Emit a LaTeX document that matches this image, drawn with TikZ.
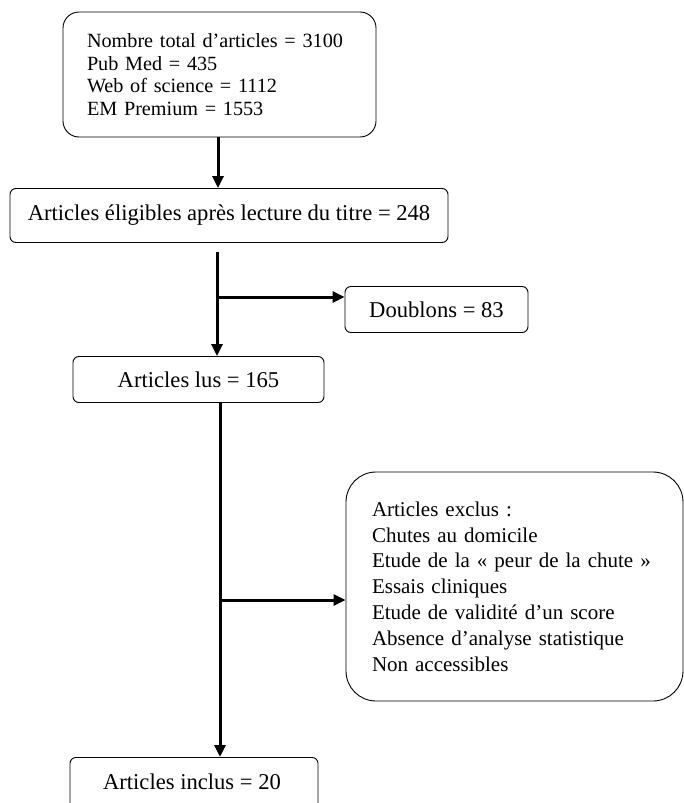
\documentclass[tikz,border=0pt]{standalone}
\usepackage{fontspec}
\setmainfont{Liberation Serif}
\usetikzlibrary{arrows.meta}
\begin{document}
\begin{tikzpicture}[x=1pt,y=-1pt,
  box/.style={draw, line width=0.9pt, rounded corners=6pt, inner sep=0pt, font=\fontsize{22.6}{26}\selectfont},
  flow/.style={line width=3pt, -{Triangle[length=12pt,width=11pt]}}]
\clip (0,0) rectangle (684,803);
% boxes
\node[box, rounded corners=16pt, minimum width=313pt, minimum height=125pt,
      text width=265pt, align=left, font=\fontsize{20.2}{22.7}\selectfont] (total) at (219.5,74.5)
  {Nombre total d’articles = 3100\\Pub Med = 435\\Web of science = 1112\\EM Premium = 1553};
\node[box, minimum width=438pt, minimum height=54pt] (elig) at (229,215.5) {Articles éligibles après lecture du titre = 248};
\node[box, minimum width=183pt, minimum height=46pt] (doub) at (436.5,309.5) {Doublons = 83};
\node[box, minimum width=251pt, minimum height=46pt] (lus) at (198.5,379.5) {Articles lus = 165};
\node[box, rounded corners=30pt, minimum width=337pt, minimum height=229pt,
      text width=285pt, align=left, font=\fontsize{21}{25.8}\selectfont] (excl) at (514.5,586.5)
  {Articles exclus :\\Chutes au domicile\\Etude de la « peur de la chute »\\Essais cliniques\\Etude de validité d’un score\\Absence d’analyse statistique\\Non accessibles};
\node[box, minimum width=248pt, minimum height=62pt, anchor=north] (incl) at (194,757) {};
\node[font=\fontsize{22.6}{26}\selectfont] (incltxt) at (192,782) {Articles inclus = 20};
% connectors
\coordinate (s1) at (217,252);
\coordinate (b1) at (219,297);
\coordinate (s2) at (220,402);
\coordinate (b2) at (220,600);
\draw[flow] (total.south -| 218,0) -- (elig.north -| 218,0);
\draw[flow] (s1) -- (s1 |- lus.north);
\draw[flow] (b1) -- (b1 -| doub.west);
\draw[flow] (s2) -- (s2 |- incl.north);
\draw[flow] (b2) -- (b2 -| excl.west);
\end{tikzpicture}
\end{document}
